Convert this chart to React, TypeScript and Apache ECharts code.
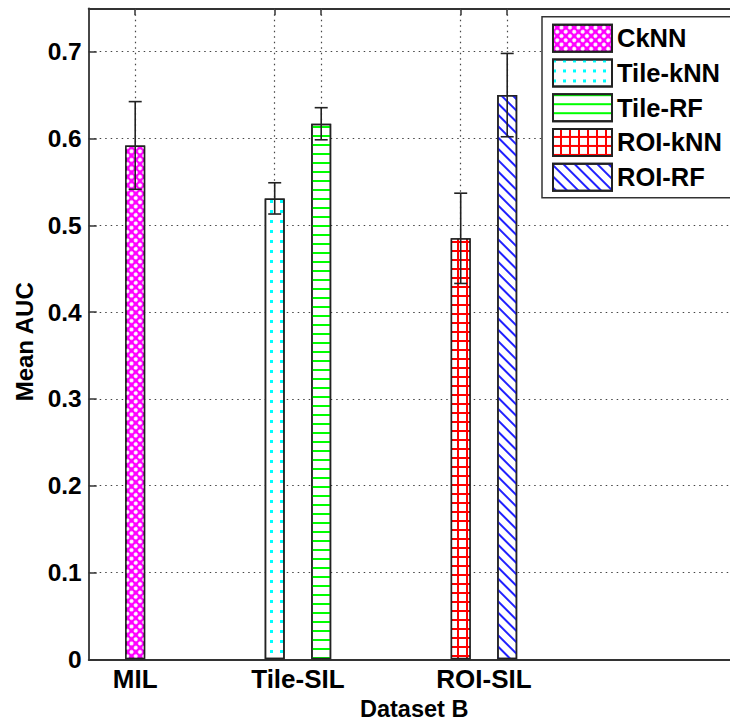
import React, { useEffect, useRef } from 'react';
import * as echarts from 'echarts';

// ---- data ----
const seriesNames = ['CkNN', 'Tile-kNN', 'Tile-RF', 'ROI-kNN', 'ROI-RF'];
const barPositions = [1, 4, 5, 8, 9];
const meanAUC = [0.592, 0.531, 0.617, 0.485, 0.650];
const errHalf = [0.0505, 0.018, 0.0185, 0.052, 0.048];
const groupLabels = ['MIL', 'Tile-SIL', 'ROI-SIL'];
const groupLabelPositions = [1, 4.5, 8.5];
const xTitle = 'Dataset B';
const yTitle = 'Mean AUC';

const FONT = '"Liberation Sans", Arial, Helvetica, sans-serif';

const barStyles: any[] = [
  { color: '#ff00ff', decal: { symbol: 'circle', symbolSize: 1, color: '#ffffff', dashArrayX: [3.4, 1.3], dashArrayY: [3.4, 1.3], rotation: Math.PI / 4 } },
  { color: '#ffffff', decal: { symbol: 'rect', symbolSize: 1, color: '#00ffff', dashArrayX: [2.5, 6.3], dashArrayY: [2.5, 6.3] } },
  { color: '#ffffff', decal: { symbol: 'rect', symbolSize: 1, color: '#00ff00', dashArrayX: [1, 0], dashArrayY: [2, 6.7] } },
  { color: '#ff0000', decal: { symbol: 'rect', symbolSize: 1, color: '#ffffff', dashArrayX: [6.8, 1.8], dashArrayY: [6.8, 1.8] } },
  { color: '#ffffff', decal: { symbol: 'rect', symbolSize: 1, color: '#2020ff', dashArrayX: [1, 0], dashArrayY: [1.2, 5.2], rotation: Math.PI / 4 } },
];

const gridLineStyle = { color: '#444', width: 1.2, type: [1.5, 4] as any };

export default function App() {
  const ref = useRef<HTMLDivElement>(null);
  useEffect(() => {
    if (!ref.current) return;
    const chart = echarts.init(ref.current, undefined, { renderer: 'svg' });
    const labelMap: Record<string, string> = {};
    groupLabelPositions.forEach((p, i) => (labelMap[String(p)] = groupLabels[i]));

    const barSeries = seriesNames.map((name, i) => ({
      name,
      type: 'bar',
      xAxisIndex: 0,
      yAxisIndex: 0,
      barWidth: 20,
      barGap: '-100%',
      z: 3,
      data: [[barPositions[i], meanAUC[i]]],
      itemStyle: { ...barStyles[i], borderColor: '#222', borderWidth: 1.5 },
      emphasis: { disabled: true },
    }));

    const option: any = {
      animation: false,
      backgroundColor: '#ffffff',
      textStyle: { fontFamily: FONT },
      grid: { left: 88.7, top: 8.3, width: 651, height: 651, containLabel: false, outerBoundsMode: 'none' },
      legend: {
        orient: 'vertical',
        left: 542,
        top: 16.7,
        padding: [7, 16, 6, 10],
        itemWidth: 59,
        itemHeight: 27,
        itemGap: 5.75,
        icon: 'rect',
        borderColor: '#333',
        borderWidth: 1.5,
        borderRadius: 0,
        backgroundColor: '#ffffff',
        textStyle: { fontSize: 25.5, fontWeight: 'bold', color: '#000', fontFamily: FONT },
        data: seriesNames,
        selectedMode: false,
      },
      xAxis: [
        {
          type: 'value',
          position: 'bottom',
          min: 0,
          max: 14,
          name: xTitle,
          nameLocation: 'middle',
          nameGap: 33,
          nameTextStyle: { fontSize: 23.5, fontWeight: 'bold', color: '#000', fontFamily: FONT },
          axisLine: { show: true, onZero: false, lineStyle: { color: '#333', width: 1.8 } },
          axisTick: { show: true, inside: true, length: 7, customValues: barPositions, lineStyle: { color: '#333', width: 1.5 } },
          axisLabel: {
            show: true,
            customValues: groupLabelPositions,
            margin: 7,
            fontSize: 26,
            fontWeight: 'bold',
            color: '#000',
            fontFamily: FONT,
            formatter: (v: number) => labelMap[String(v)] ?? '',
          },
          splitLine: { show: false },
        },
        {
          type: 'value',
          position: 'top',
          min: 0,
          max: 14,
          axisLine: { show: true, onZero: false, lineStyle: { color: '#333', width: 1.8 } },
          axisTick: { show: true, inside: true, length: 7, customValues: barPositions, lineStyle: { color: '#333', width: 1.5 } },
          axisLabel: { show: false },
          splitLine: { show: false },
        },
      ],
      yAxis: {
        type: 'value',
        min: 0,
        max: 0.75,
        interval: 0.1,
        name: yTitle,
        nameLocation: 'middle',
        nameGap: 50,
        nameTextStyle: { fontSize: 24, fontWeight: 'bold', color: '#000', fontFamily: FONT, padding: [0, 16, 0, 0] },
        axisLine: { show: true, lineStyle: { color: '#333', width: 1.8 } },
        axisTick: { show: true, inside: true, length: 8, lineStyle: { color: '#333', width: 1.5 } },
        axisLabel: {
          showMaxLabel: false,
          margin: 7,
          fontSize: 24.5,
          fontWeight: 'bold',
          color: '#000',
          fontFamily: FONT,
          formatter: (v: number) => (v > 0.7001 ? '' : String(Math.round(v * 10) / 10)),
        },
        splitLine: { show: true, lineStyle: gridLineStyle },
      },
      series: [
        {
          type: 'line',
          name: 'vgrid',
          xAxisIndex: 0,
          yAxisIndex: 0,
          data: [],
          silent: true,
          z: 1,
          markLine: {
            silent: true,
            z: 1,
            symbol: 'none',
            label: { show: false },
            lineStyle: gridLineStyle,
            emphasis: { disabled: true },
            data: barPositions.map((x) => ({ xAxis: x })),
          },
        },
        ...barSeries,
        {
          type: 'custom',
          name: 'error',
          xAxisIndex: 0,
          yAxisIndex: 0,
          z: 5,
          encode: { x: 0, y: [1, 2] },
          data: barPositions.map((x, i) => [x, meanAUC[i] - errHalf[i], meanAUC[i] + errHalf[i]]),
          renderItem: (params: any, api: any) => {
            const x = api.value(0);
            const lo = api.coord([x, api.value(1)]);
            const hi = api.coord([x, api.value(2)]);
            const cap = 6.5;
            const style = { stroke: '#222', lineWidth: 1.6 };
            return {
              type: 'group',
              children: [
                { type: 'line', shape: { x1: hi[0], y1: hi[1], x2: lo[0], y2: lo[1] }, style },
                { type: 'line', shape: { x1: hi[0] - cap, y1: hi[1], x2: hi[0] + cap, y2: hi[1] }, style },
                { type: 'line', shape: { x1: lo[0] - cap, y1: lo[1], x2: lo[0] + cap, y2: lo[1] }, style },
              ],
            };
          },
        },
      ],
    };
    chart.setOption(option);
    return () => chart.dispose();
  }, []);

  return (
    <div style={{ position: 'fixed', left: 0, top: 0, width: 730, height: 723, overflow: 'hidden', background: '#fff' }}>
      <div ref={ref} style={{ width: 760, height: 723 }} />
    </div>
  );
}
